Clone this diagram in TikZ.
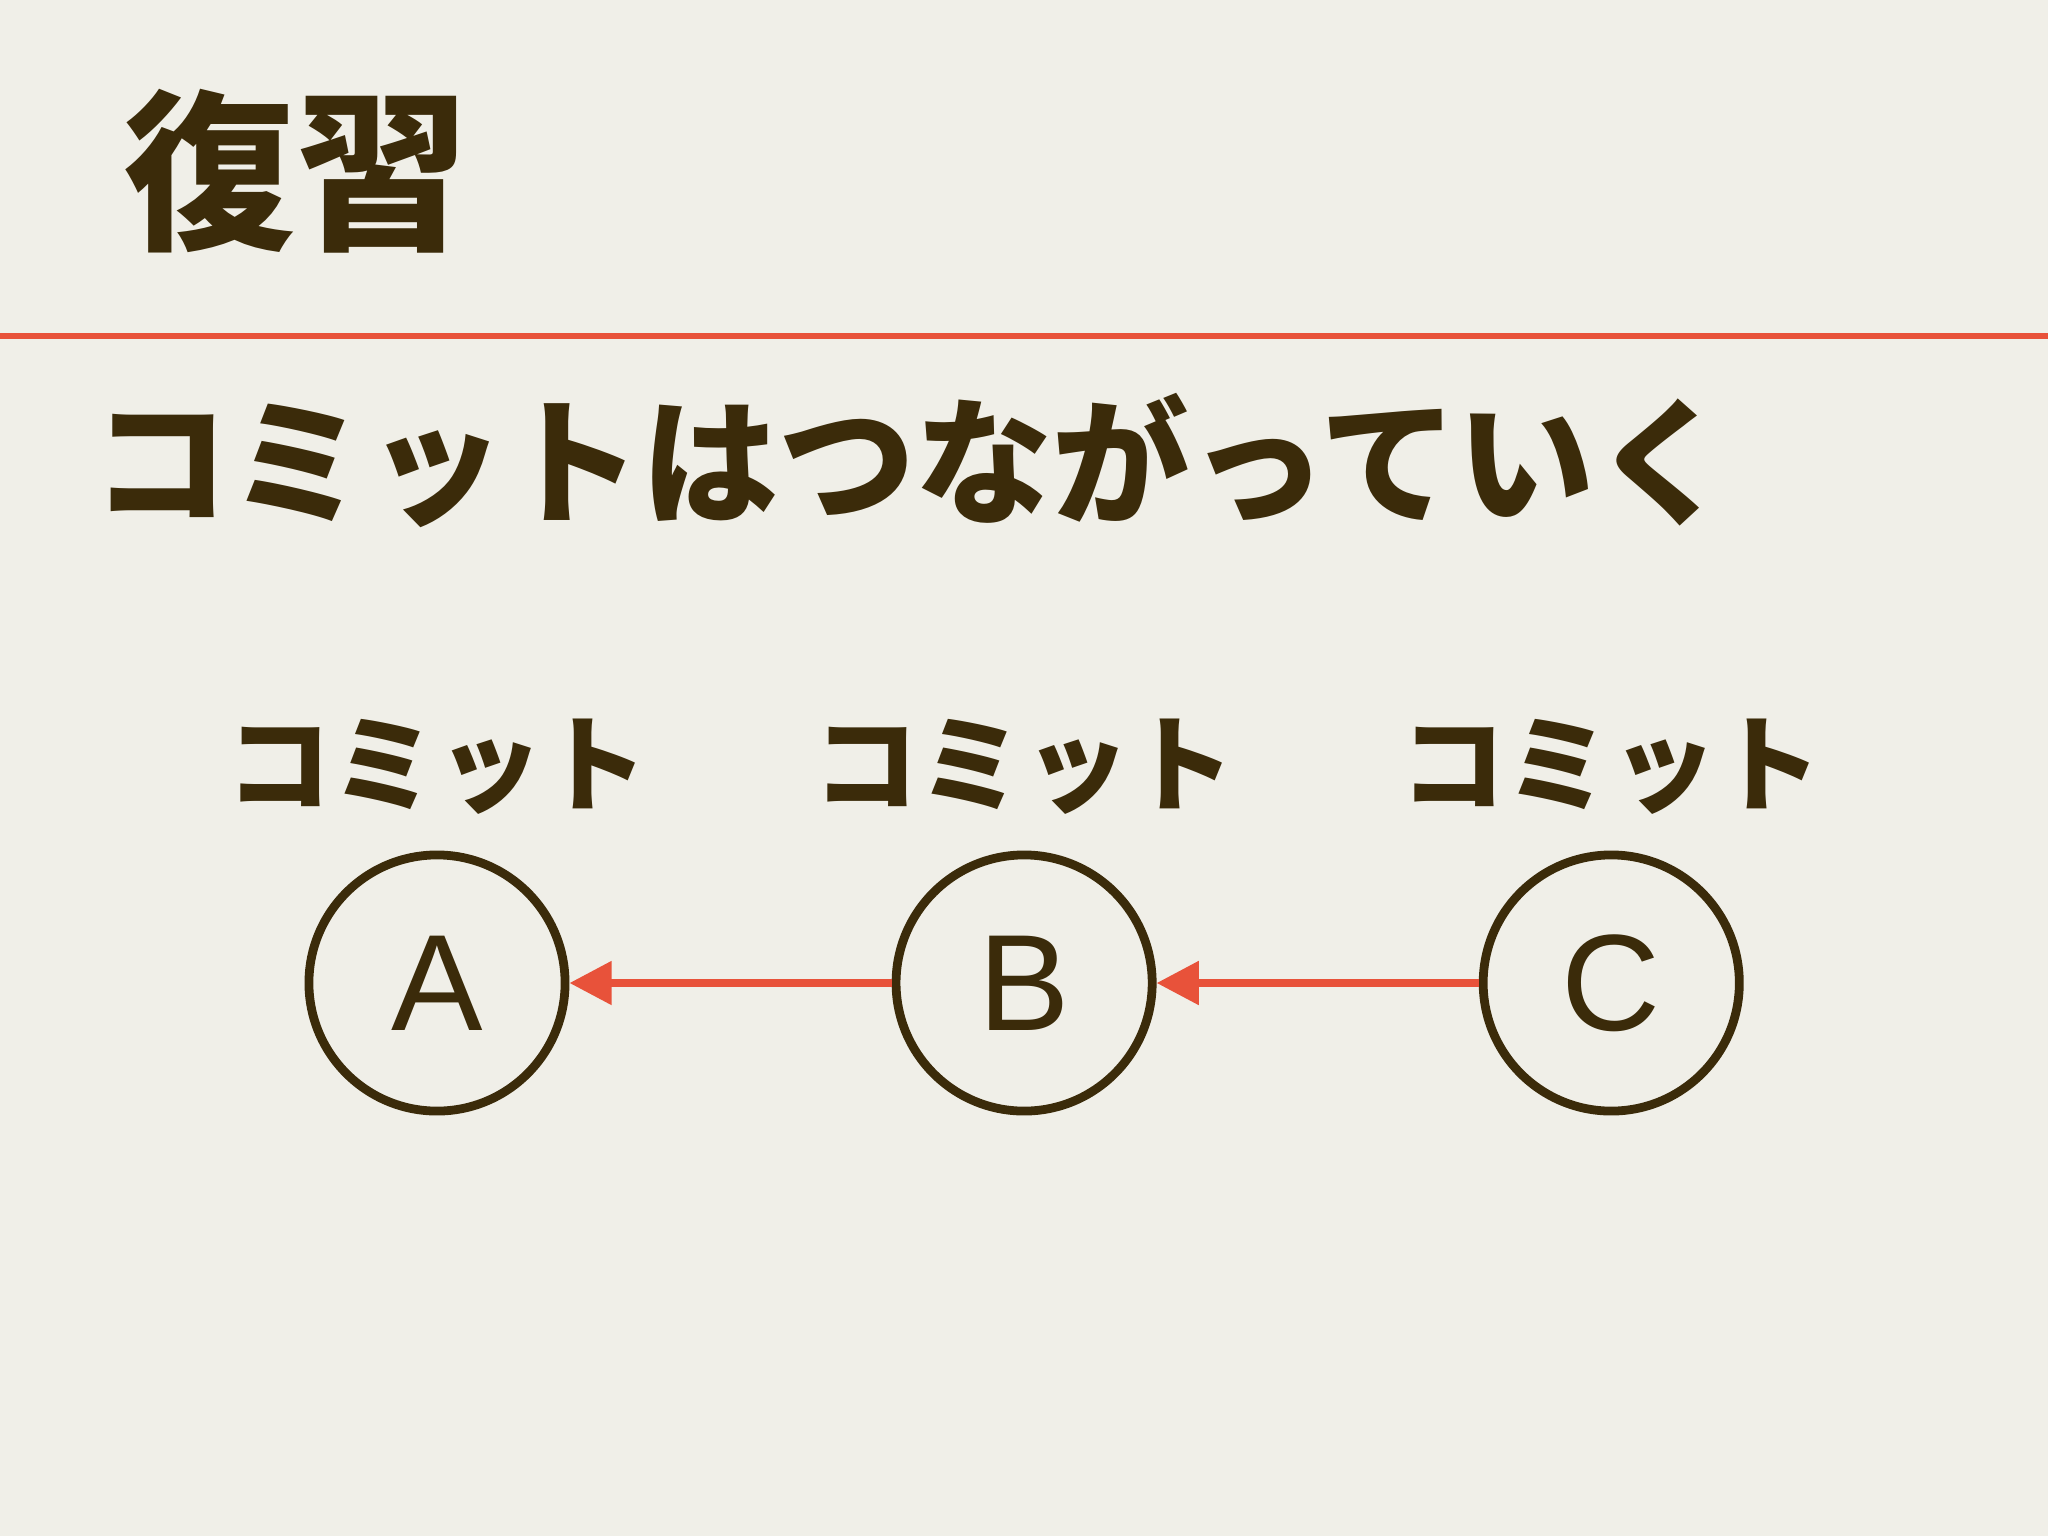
\documentclass[tikz,border=0pt]{standalone}
\usepackage{fontspec}
\setsansfont{Liberation Sans}
\newfontfamily\cjk{Noto Sans CJK JP}
\usetikzlibrary{arrows.meta}
\usetikzlibrary{positioning}
\definecolor{bg}{HTML}{F0EFE8}
\definecolor{ink}{HTML}{3B2B0A}
\definecolor{accent}{HTML}{E8523A}

\begin{document}
\begin{tikzpicture}[x=0.01cm, y=-0.01cm,
        commit/.style={circle, draw=ink, line width=2.5pt, minimum size=2.56cm, inner sep=0pt,
            text=ink, font=\sffamily\fontsize{39}{39}\selectfont},
        lbl/.style={inner sep=0pt, outer sep=0pt, text=ink, font=\cjk\bfseries\fontsize{30}{30}\selectfont},
        link/.style={-{Triangle[length=12pt,width=12pt]}, draw=accent, line width=2.2pt}]
        \fill[bg] (0,0) rectangle (2048,1536);
        \useasboundingbox (0,0) rectangle (2048,1536);

        % heading
        \node[anchor=west, inner sep=0pt, text=ink, font=\cjk\bfseries\fontsize{49}{49}\selectfont] (title) at (123,171) {復習};
        \draw[accent, line width=1.7pt] (0,336) -- (2048,336);
        \node[anchor=west, inner sep=0pt, text=ink, font=\cjk\bfseries\fontsize{39}{39}\selectfont] (sub) at (92,460) {コミットはつながっていく};

        % commits
        \node[commit] (a) at (437,983) {A};
        \node[commit, right=3.22cm of a] (b) {B};
        \node[commit, right=3.22cm of b] (c) {C};
        \node[lbl, above=0.36cm of a] (la) {コミット};
        \node[lbl, above=0.36cm of b] (lb) {コミット};
        \node[lbl, above=0.36cm of c] (lc) {コミット};

        \draw[link] (b) -- (a);
        \draw[link] (c) -- (b);
    \end{tikzpicture}
\end{document}
